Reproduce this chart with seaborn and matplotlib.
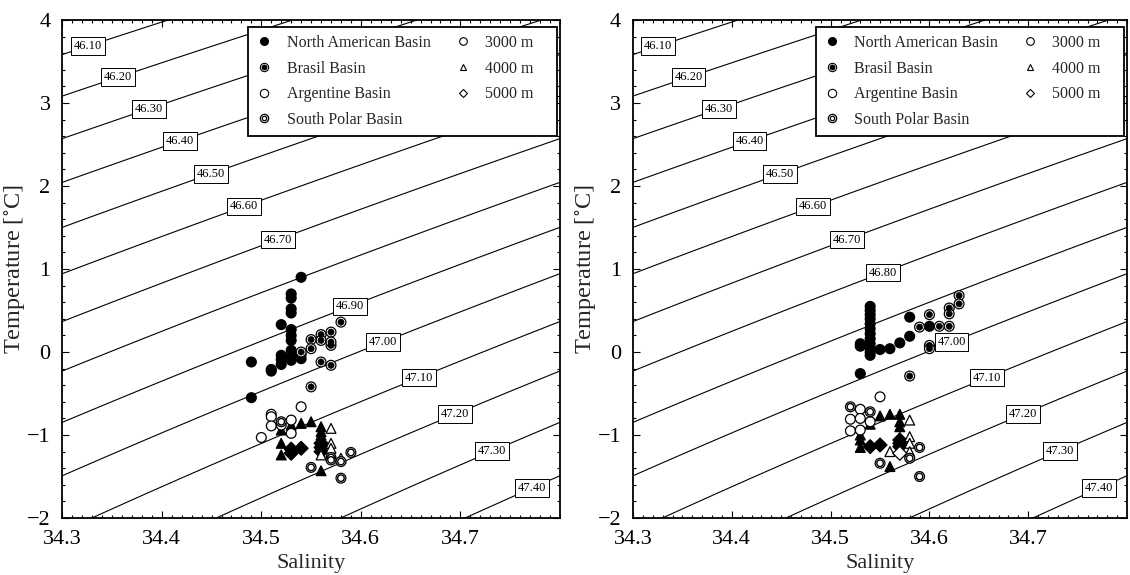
import numpy as np
import pandas as pd
import matplotlib
matplotlib.use('Agg')
import matplotlib.pyplot as plt
import seaborn as sns
from matplotlib.lines import Line2D
from matplotlib.legend_handler import HandlerTuple
from matplotlib.ticker import MultipleLocator, FixedLocator

sns.set_theme(style='ticks')
plt.rcParams['font.family'] = ['Liberation Serif', 'DejaVu Serif']
plt.rcParams['mathtext.fontset'] = 'stix'

# ---- data (salinity, potential temperature, depth) ----
# left panel
left_na_sal = [34.54, 34.53, 34.53, 34.53, 34.53, 34.52, 34.53, 34.53, 34.53, 34.53,
               34.52, 34.52, 34.52, 34.53, 34.53, 34.54, 34.54, 34.49, 34.51, 34.51, 34.49,
               34.52, 34.52, 34.52, 34.53, 34.54, 34.55, 34.56, 34.56, 34.56, 34.56,
               34.53, 34.53, 34.54, 34.56, 34.56, 34.56]
left_na_temp = [0.90, 0.70, 0.65, 0.52, 0.47, 0.33, 0.27, 0.20, 0.14, 0.02,
                -0.04, -0.09, -0.15, -0.05, -0.10, -0.03, -0.08, -0.12, -0.21, -0.23, -0.55,
                -0.94, -1.10, -1.24, -0.88, -0.86, -0.84, -0.90, -0.96, -1.00, -1.43,
                -1.17, -1.22, -1.16, -1.10, -1.15, -1.20]
left_na_depth = [3000] * 21 + [4000] * 10 + [5000] * 6

left_br_sal = [34.58, 34.57, 34.56, 34.56, 34.55, 34.55, 34.57, 34.57, 34.54, 34.56, 34.57, 34.55]
left_br_temp = [0.36, 0.24, 0.21, 0.14, 0.15, 0.04, 0.08, 0.12, 0.00, -0.12, -0.16, -0.42]
left_br_depth = [3000] * 12

left_ar_sal = [34.54, 34.51, 34.51, 34.51, 34.50, 34.53, 34.53, 34.52,
               34.57, 34.57, 34.57, 34.56, 34.58]
left_ar_temp = [-0.66, -0.75, -0.78, -0.89, -1.03, -0.82, -0.98, -0.88,
                -0.92, -1.10, -1.16, -1.24, -1.28]
left_ar_depth = [3000] * 8 + [4000] * 5

left_sp_sal = [34.52, 34.57, 34.57, 34.58, 34.59, 34.55, 34.58]
left_sp_temp = [-0.84, -1.27, -1.30, -1.32, -1.21, -1.39, -1.52]
left_sp_depth = [3000] * 7

# right panel
right_na_sal = [34.54, 34.54, 34.54, 34.54, 34.54, 34.54, 34.54, 34.54, 34.54, 34.54, 34.54, 34.54,
                34.53, 34.53, 34.55, 34.56, 34.57, 34.58, 34.58, 34.60, 34.53,
                34.55, 34.56, 34.57, 34.57, 34.57, 34.54, 34.53, 34.53, 34.53, 34.57, 34.56,
                34.54, 34.55, 34.57, 34.57, 34.57]
right_na_temp = [0.55, 0.50, 0.45, 0.40, 0.34, 0.28, 0.22, 0.16, 0.10, 0.05, 0.00, -0.04,
                 0.10, 0.07, 0.03, 0.04, 0.11, 0.19, 0.42, 0.31, -0.26,
                 -0.77, -0.75, -0.75, -0.84, -0.90, -0.87, -1.00, -1.06, -1.15, -1.03, -1.38,
                 -1.14, -1.12, -1.06, -1.10, -1.14]
right_na_depth = [3000] * 21 + [4000] * 11 + [5000] * 5

right_br_sal = [34.63, 34.63, 34.60, 34.59, 34.61, 34.62, 34.62, 34.62, 34.60, 34.60, 34.58]
right_br_temp = [0.68, 0.58, 0.45, 0.30, 0.31, 0.31, 0.53, 0.46, 0.08, 0.04, -0.29]
right_br_depth = [3000] * 11

right_ar_sal = [34.55, 34.53, 34.52, 34.53, 34.52, 34.53, 34.54,
                34.58, 34.58, 34.58, 34.56, 34.58, 34.57]
right_ar_temp = [-0.54, -0.69, -0.81, -0.80, -0.95, -0.94, -0.84,
                 -0.82, -1.02, -1.10, -1.20, -1.20, -1.22]
right_ar_depth = [3000] * 7 + [4000] * 5 + [5000]

right_sp_sal = [34.52, 34.54, 34.59, 34.55, 34.58, 34.59]
right_sp_temp = [-0.66, -0.72, -1.15, -1.34, -1.28, -1.50]
right_sp_depth = [3000] * 6

basin_names = ['North American Basin', 'Brasil Basin', 'Argentine Basin', 'South Polar Basin']
depth_names = ['3000 m', '4000 m', '5000 m']

# isopycnal levels (sigma_4) and simple fitted equation of state for the background
sigma_levels = [46.1, 46.2, 46.3, 46.4, 46.5, 46.6, 46.7, 46.8, 46.9, 47.0, 47.1, 47.2, 47.3, 47.4]
left_labelled = [46.1, 46.2, 46.3, 46.4, 46.5, 46.6, 46.7, 46.9, 47.0, 47.1, 47.2, 47.3, 47.4]
right_labelled = [46.1, 46.2, 46.3, 46.4, 46.5, 46.6, 46.7, 46.8, 47.0, 47.1, 47.2, 47.3, 47.4]
SIG0, BETA, ALPHA, ALPHA2 = 46.762, 0.80, 0.167, 0.00494

# where the boxed labels sit (S, T) for each level
label_pos = {46.1: (34.326, 3.67), 46.2: (34.356, 3.32), 46.3: (34.387, 2.94),
             46.4: (34.418, 2.54), 46.5: (34.449, 2.15), 46.6: (34.482, 1.77),
             46.7: (34.516, 1.37), 46.8: (34.553, 0.96), 46.9: (34.590, 0.52),
             47.0: (34.623, 0.10), 47.1: (34.659, -0.32), 47.2: (34.694, -0.73),
             47.3: (34.731, -1.16), 47.4: (34.772, -1.65)}

depth_markers = {3000: 'o', 4000: '^', 5000: 'D'}
MS = 50


def frame(sal, temp, depth):
    return pd.DataFrame({'S': sal, 'T': temp, 'depth': depth})


def scat(ax, df, size, face, lw=0.9, z=5):
    sns.scatterplot(data=df, x='S', y='T', style='depth', markers=depth_markers,
                    s=size, color=face, edgecolor='black', linewidth=lw,
                    legend=False, ax=ax, zorder=z)


def draw_panel(ax, na, br, ar, sp, labelled):
    sg, tg = np.meshgrid(np.linspace(34.3, 34.8, 200), np.linspace(-2, 4, 200))
    sigma = SIG0 + BETA * (sg - 34.3) - ALPHA * tg - ALPHA2 * tg ** 2
    plain = [l for l in sigma_levels if l not in labelled]
    ax.contour(sg, tg, sigma, levels=plain, colors='black', linewidths=0.8, zorder=1)
    cs = ax.contour(sg, tg, sigma, levels=labelled, colors='black', linewidths=0.8, zorder=1)
    texts = ax.clabel(cs, manual=[label_pos[l] for l in labelled],
                      fmt='%.2f', fontsize=9, inline=False)
    for t in texts:
        t.set_rotation(0)
        t.set_bbox(dict(facecolor='white', edgecolor='black', linewidth=0.7, pad=2.0))
        t.set_zorder(3)

    scat(ax, frame(*na), MS, 'black')
    scat(ax, frame(*br), MS, 'white')
    scat(ax, frame(*br), 20, 'black', lw=0.4, z=6)
    scat(ax, frame(*ar), MS, 'white')
    scat(ax, frame(*sp), MS, 'white')
    scat(ax, frame(*sp), 22, 'white', lw=1.0, z=6)

    ax.set_xlim(34.3, 34.8)
    ax.set_ylim(-2, 4)
    ax.xaxis.set_major_locator(FixedLocator([34.3, 34.4, 34.5, 34.6, 34.7]))
    ax.xaxis.set_minor_locator(MultipleLocator(0.01))
    ax.yaxis.set_major_locator(MultipleLocator(1))
    ax.yaxis.set_minor_locator(MultipleLocator(0.2))
    ax.tick_params(which='both', direction='in', top=True, right=True, width=0.8, colors='black')
    ax.tick_params(which='major', length=5, labelsize=16)
    ax.tick_params(axis='x', which='major', pad=8.5)
    ax.tick_params(axis='y', which='major', pad=8.5)
    ax.tick_params(which='minor', length=2.5)
    for sp_ in ax.spines.values():
        sp_.set_linewidth(1.3)
        sp_.set_color('black')
    ax.set_xlabel('Salinity', fontsize=16, labelpad=4)
    ax.set_ylabel(r'Temperature [$^{\circ}$C]', fontsize=17.5, labelpad=0)

    h_na = Line2D([], [], ls='none', marker='o', ms=5.5, mfc='black', mec='black')
    h_br = (Line2D([], [], ls='none', marker='o', ms=6, mfc='white', mec='black', mew=0.8),
            Line2D([], [], ls='none', marker='o', ms=3.2, mfc='black', mec='black'))
    h_ar = Line2D([], [], ls='none', marker='o', ms=6, mfc='white', mec='black', mew=0.8)
    h_sp = (Line2D([], [], ls='none', marker='o', ms=6, mfc='white', mec='black', mew=0.9),
            Line2D([], [], ls='none', marker='o', ms=3.2, mfc='white', mec='black', mew=0.9))
    h_d3 = Line2D([], [], ls='none', marker='o', ms=5.5, mfc='white', mec='black', mew=0.8)
    h_d4 = Line2D([], [], ls='none', marker='^', ms=5, mfc='white', mec='black', mew=0.8)
    h_d5 = Line2D([], [], ls='none', marker='D', ms=4, mfc='white', mec='black', mew=0.8)
    h_blank = Line2D([], [], ls='none')
    leg = ax.legend([h_na, h_br, h_ar, h_sp, h_d3, h_d4, h_d5, h_blank],
                    basin_names + depth_names + [' ' * 16], ncol=2, loc='upper right',
                    bbox_to_anchor=(0.994, 0.986), borderaxespad=0,
                    handler_map={tuple: HandlerTuple(ndivide=1)},
                    frameon=True, fancybox=False, framealpha=1, edgecolor='black',
                    fontsize=11.5, handlelength=1.0, handletextpad=0.9,
                    columnspacing=1.5, labelspacing=0.6, borderpad=0.5)
    leg.get_frame().set_linewidth(1.3)
    leg.set_zorder(10)


fig = plt.figure(figsize=(11.3, 5.75), dpi=100)
ax1 = fig.add_axes([0.0551, 0.0991, 0.4404, 0.8661])
ax2 = fig.add_axes([0.5602, 0.0991, 0.4372, 0.8661])

draw_panel(ax1,
           (left_na_sal, left_na_temp, left_na_depth),
           (left_br_sal, left_br_temp, left_br_depth),
           (left_ar_sal, left_ar_temp, left_ar_depth),
           (left_sp_sal, left_sp_temp, left_sp_depth),
           left_labelled)
draw_panel(ax2,
           (right_na_sal, right_na_temp, right_na_depth),
           (right_br_sal, right_br_temp, right_br_depth),
           (right_ar_sal, right_ar_temp, right_ar_depth),
           (right_sp_sal, right_sp_temp, right_sp_depth),
           right_labelled)

fig.savefig('out.png', dpi=100)
